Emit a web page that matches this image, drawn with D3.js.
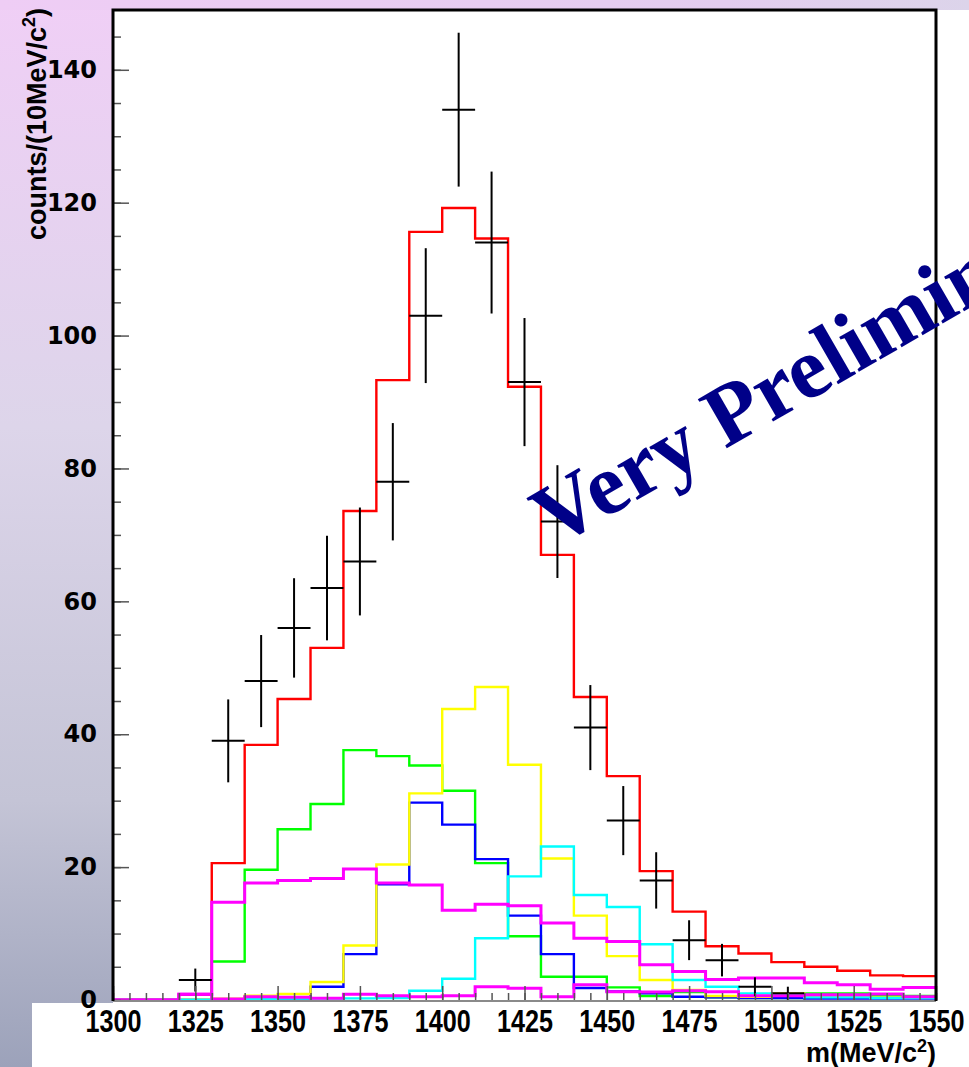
<!DOCTYPE html>
<html>
<head>
<meta charset="utf-8">
<script src="https://cdn.jsdelivr.net/npm/d3@7"></script>
<style>
  html, body { margin: 0; padding: 0; background: #fff; }
  svg { display: block; }
</style>
</head>
<body>
<svg id="chart" width="969" height="1067"></svg>
<script>
// ---- histogram binning (10 MeV bins, low edges) ----
const binLow = [1300,1310,1320,1330,1340,1350,1360,1370,1380,1390,1400,1410,1420,
                1430,1440,1450,1460,1470,1480,1490,1500,1510,1520,1530,1540];
const binWidth = 10;

// ---- measured spectrum (bin centres, counts, errors) ----
const dataMass   = [1325,1335,1345,1355,1365,1375,1385,1395,1405,1415,1425,1435,1445,1455,1465,1475,1485,1495,1505];
const dataCounts = [3,39,48,56,62,66,78,103,134,114,93,72,41,27,18,9,6,2,1];
const dataErrors = [1.73,6.24,6.93,7.48,7.87,8.12,8.83,10.15,11.58,10.68,9.64,8.49,6.40,5.20,4.24,3.0,2.45,1.41,1.0];

// ---- fit: total and components (per bin) ----
const fitTotal       = [0,0,0.8,20.6,38.4,45.3,53.0,73.6,93.3,115.6,119.2,114.6,92.3,67.0,45.6,33.7,19.4,13.3,8.1,7.0,5.7,5.0,4.4,3.7,3.6];
const compGreen      = [0,0,0,5.8,19.6,25.7,29.5,37.6,36.7,35.3,31.5,20.6,9.6,3.5,3.5,1.9,0.6,1.2,0.4,0.3,0.3,1.0,1.0,0.6,0.6];
const compBlue       = [0,0,0,0,0.1,0.2,2.0,6.9,17.4,29.7,26.4,21.2,12.7,6.9,1.8,1.3,1.0,0.5,0.4,0.3,0.3,0.2,0.2,0.2,0.2];
const compYellow     = [0,0,0,0.2,0.65,0.9,2.7,8.2,20.4,31.1,43.8,47.1,35.4,21.3,12.7,6.6,3.0,1.5,0.6,0.5,1.0,0.5,0.5,0.4,0.4];
const compCyan       = [0,0,0,0.1,0.15,0.2,0.2,0.25,0.3,1.4,3.2,9.3,18.6,23.1,15.8,14.0,8.4,3.0,2.0,1.0,0.7,0.4,0.4,0.3,0.3];
const compMagenta    = [0,0,0.85,14.7,17.6,18.0,18.3,19.7,17.6,17.3,13.5,14.4,14.2,11.6,9.3,8.8,5.3,4.3,3.1,3.3,3.3,2.6,2.3,1.6,1.9];
const compMagentaLow = [0,0,0.85,0.15,0.5,0.4,0.25,0.85,0.65,0.5,0.65,2.0,1.75,0.5,2.3,1.25,1.2,1.4,1.25,0.65,0.65,0.8,0.8,0.9,0.5];

// ---- axes ----
const xMajorTicks = [1300,1325,1350,1375,1400,1425,1450,1475,1500,1525,1550];
const xTickLabels = ["1300","1325","1350","1375","1400","1425","1450","1475","1500","1525","1550"];
const yMajorTicks = [0,20,40,60,80,100,120,140];
const yTickLabels = ["0","20","40","60","80","100","120","140"];
const xRange = [1300, 1550];
const yRange = [0, 149];

const W = 969, H = 1067;
const frame = { left: 113, right: 936, top: 10, bottom: 1000 };

const svg = d3.select("#chart");

// slide background: lavender at the top fading to grey-blue at the bottom
const defs = svg.append("defs");
const bg = defs.append("linearGradient").attr("id", "slideBg")
  .attr("x1", 0).attr("y1", 0).attr("x2", 0).attr("y2", 1);
bg.append("stop").attr("offset", 0).attr("stop-color", "#f0cff6");
bg.append("stop").attr("offset", 0.4).attr("stop-color", "#ddd5ea");
bg.append("stop").attr("offset", 0.75).attr("stop-color", "#c4c4d6");
bg.append("stop").attr("offset", 1).attr("stop-color", "#9ca2ba");
const topBand = defs.append("linearGradient").attr("id", "topBand")
  .attr("x1", 0).attr("y1", 0).attr("x2", 1).attr("y2", 0);
topBand.append("stop").attr("offset", 0).attr("stop-color", "#efcdf5");
topBand.append("stop").attr("offset", 0.75).attr("stop-color", "#e3cdef");
topBand.append("stop").attr("offset", 1).attr("stop-color", "#dcd4ea");

svg.append("rect").attr("width", W).attr("height", H).attr("fill", "url(#slideBg)");
svg.append("rect").attr("width", W).attr("height", frame.top).attr("fill", "url(#topBand)");
svg.append("rect").attr("x", frame.left).attr("y", frame.top)
  .attr("width", W - frame.left).attr("height", H - frame.top).attr("fill", "#fff");
svg.append("rect").attr("x", 32).attr("y", 1003)
  .attr("width", W - 32).attr("height", H - 1003).attr("fill", "#fff");

const x = d3.scaleLinear().domain(xRange).range([frame.left, frame.right]);
const y = d3.scaleLinear().domain(yRange).range([frame.bottom, frame.top]);

const plot = svg.append("g");

// step outline of a binned series
function stepPoints(vals) {
  const pts = binLow.map((lo, i) => [lo, vals[i]]);
  pts.push([binLow[binLow.length - 1] + binWidth, vals[vals.length - 1]]);
  return pts;
}
const stepLine = d3.line().x(d => x(d[0])).y(d => y(d[1])).curve(d3.curveStepAfter);

const series = [
  { vals: fitTotal,       color: "#ff0000", w: 2.4 },
  { vals: compGreen,      color: "#00ff00", w: 2.4 },
  { vals: compBlue,       color: "#0000ff", w: 2.4 },
  { vals: compYellow,     color: "#ffff00", w: 2.4 },
  { vals: compCyan,       color: "#00ffff", w: 2.4 },
  { vals: compMagentaLow, color: "#ff00ff", w: 3 },
  { vals: compMagenta,    color: "#ff00ff", w: 3 }
];

// axis ticks (inside the frame)
const yMinor = d3.range(0, 146, 5);
const xMinor = d3.range(1300, 1551, 5);

const yAxisMinor = d3.axisLeft(y).tickValues(yMinor).tickSize(-8).tickFormat("");
const yAxisMajor = d3.axisLeft(y).tickValues(yMajorTicks).tickSize(-16).tickPadding(16)
  .tickFormat((d, i) => yTickLabels[i]);
const xAxisMinor = d3.axisBottom(x).tickValues(xMinor).tickSize(-7).tickFormat("");
const xAxisMajor = d3.axisBottom(x).tickValues(xMajorTicks).tickSize(-14).tickPadding(9)
  .tickFormat((d, i) => xTickLabels[i]);

function styleAxis(g) {
  g.select(".domain").remove();
  g.selectAll(".tick line").attr("stroke", "#555").attr("stroke-width", 1.5);
}
svg.append("g").attr("transform", `translate(${frame.left},0)`).call(yAxisMinor).call(styleAxis);
const gy = svg.append("g").attr("transform", `translate(${frame.left},0)`).call(yAxisMajor).call(styleAxis);
svg.append("g").attr("transform", `translate(0,${frame.bottom})`).call(xAxisMinor).call(styleAxis);
const gx = svg.append("g").attr("transform", `translate(0,${frame.bottom})`).call(xAxisMajor).call(styleAxis);

gy.selectAll(".tick text")
  .attr("font-family", "'DejaVu Sans', sans-serif").attr("font-weight", "bold")
  .attr("font-size", 24).attr("fill", "#000");
gx.selectAll(".tick text")
  .attr("font-family", "'Liberation Sans', Arial, sans-serif").attr("font-weight", "bold")
  .attr("font-size", 32).attr("fill", "#000").attr("dy", "0.71em")
  .attr("textLength", 56).attr("lengthAdjust", "spacingAndGlyphs");

// histograms
series.forEach(s => {
  plot.append("path")
    .attr("d", stepLine(stepPoints(s.vals)))
    .attr("fill", "none").attr("stroke", s.color).attr("stroke-width", s.w)
    .attr("stroke-linejoin", "miter");
});

// data points with error bars
const pts = plot.append("g").attr("stroke", "#000").attr("stroke-width", 2);
dataMass.forEach((m, i) => {
  const v = dataCounts[i], e = dataErrors[i];
  pts.append("line").attr("x1", x(m)).attr("x2", x(m))
    .attr("y1", y(Math.max(0, v - e))).attr("y2", y(v + e));
  pts.append("line").attr("x1", x(m - binWidth / 2)).attr("x2", x(m + binWidth / 2))
    .attr("y1", y(v)).attr("y2", y(v));
});

// frame
svg.append("line").attr("x1", frame.left).attr("x2", frame.right)
  .attr("y1", frame.bottom + 1).attr("y2", frame.bottom + 1)
  .attr("stroke", "#8a8a8a").attr("stroke-width", 2);
svg.append("path")
  .attr("d", `M${frame.left},${frame.bottom + 1}V${frame.top}H${frame.right}V${frame.bottom + 1}`)
  .attr("fill", "none").attr("stroke", "#000").attr("stroke-width", 3);

// axis titles
const yTitle = svg.append("text")
  .attr("font-family", "'Liberation Sans', Arial, sans-serif").attr("font-weight", "bold")
  .attr("font-size", 27).attr("fill", "#000").attr("text-anchor", "end")
  .attr("transform", "translate(46,8) rotate(-90)");
yTitle.append("tspan").text("counts/(10MeV/c");
yTitle.append("tspan").attr("font-size", 18).attr("dy", -11).text("2");
yTitle.append("tspan").attr("dy", 11).text(")");

const xTitle = svg.append("text")
  .attr("font-family", "'Liberation Sans', Arial, sans-serif").attr("font-weight", "bold")
  .attr("font-size", 27).attr("fill", "#000").attr("text-anchor", "end")
  .attr("x", frame.right).attr("y", 1062);
xTitle.append("tspan").text("m(MeV/c");
xTitle.append("tspan").attr("font-size", 18).attr("dy", -10).text("2");
xTitle.append("tspan").attr("dy", 10).text(")");

// watermark
svg.append("text")
  .attr("font-family", "'Liberation Serif', 'Times New Roman', serif").attr("font-weight", "bold")
  .attr("font-size", 87).attr("fill", "#000088")
  .attr("transform", "translate(554,548) rotate(-30)")
  .text("Very Preliminary");
</script>
</body>
</html>
